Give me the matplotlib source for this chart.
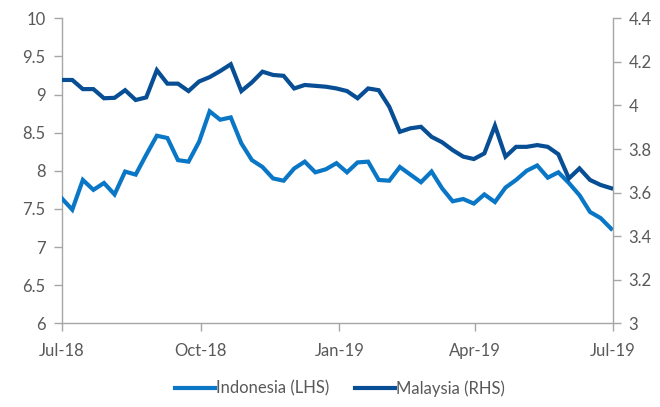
import numpy as np
import pandas as pd
import matplotlib
matplotlib.use("Agg")
import matplotlib.pyplot as plt
import matplotlib.dates as mdates

# weekly series, Jul-18 to Jul-19
dates = pd.date_range("2018-07-01", periods=53, freq="7D")

indonesia = [7.64, 7.49, 7.88, 7.75, 7.84, 7.69, 7.99, 7.95, 8.21, 8.46,
             8.43, 8.14, 8.12, 8.38, 8.78, 8.67, 8.70, 8.36, 8.14, 8.05,
             7.90, 7.87, 8.03, 8.12, 7.98, 8.02, 8.10, 7.98, 8.11, 8.12,
             7.88, 7.87, 8.05, 7.95, 7.85, 7.99, 7.77, 7.60, 7.63, 7.57,
             7.69, 7.59, 7.78, 7.88, 8.00, 8.07, 7.91, 7.98, 7.84, 7.68,
             7.46, 7.38, 7.24]

malaysia = [4.117, 4.117, 4.075, 4.075, 4.033, 4.035, 4.070, 4.025, 4.037, 4.162,
            4.100, 4.100, 4.066, 4.110, 4.130, 4.158, 4.189, 4.066, 4.106, 4.155,
            4.140, 4.136, 4.078, 4.094, 4.090, 4.086, 4.078, 4.066, 4.033, 4.078,
            4.070, 3.994, 3.879, 3.895, 3.902, 3.856, 3.831, 3.795, 3.765, 3.754,
            3.780, 3.907, 3.765, 3.810, 3.810, 3.818, 3.810, 3.776, 3.665, 3.711,
            3.658, 3.635, 3.620]

left_ticks = [6, 6.5, 7, 7.5, 8, 8.5, 9, 9.5, 10]
right_ticks = [3, 3.2, 3.4, 3.6, 3.8, 4, 4.2, 4.4]

c_indo = "#0A77C6"
c_mys = "#074E94"
grey = "#A6A6A6"
txt = "#595959"

plt.rcParams['font.family'] = ['Lato', 'DejaVu Sans']

fig = plt.figure(figsize=(6.6, 4.07), dpi=100)
ax = fig.add_axes([0.0935, 0.2057, 0.8348, 0.7493])
ax2 = ax.twinx()

l1, = ax.plot(dates, indonesia, color=c_indo, lw=3.0, solid_joinstyle="miter",
              label="Indonesia (LHS)", zorder=3)
l2, = ax2.plot(dates, malaysia, color=c_mys, lw=3.0, solid_joinstyle="miter",
               label="Malaysia (RHS)", zorder=3)

ax.set_ylim(6, 10)
ax2.set_ylim(3, 4.4)
ax.set_yticks(left_ticks)
ax.set_yticklabels(["%g" % v for v in left_ticks])
ax2.set_yticks(right_ticks)
ax2.set_yticklabels(["%g" % v for v in right_ticks])

ax.set_xlim(pd.Timestamp("2018-07-01"), pd.Timestamp("2019-07-01"))
ax.xaxis.set_major_locator(mdates.MonthLocator(bymonth=[1, 4, 7, 10]))
ax.xaxis.set_major_formatter(mdates.DateFormatter("%b-%y"))

for a in (ax, ax2):
    a.spines["top"].set_visible(False)
    for s in ("left", "right", "bottom"):
        a.spines[s].set_color(grey)
        a.spines[s].set_linewidth(1.0)
    a.tick_params(colors=grey, labelcolor=txt, labelsize=12, length=5.5, width=1.0)
ax.spines["right"].set_visible(False)
ax2.spines["left"].set_visible(False)
ax2.spines["bottom"].set_visible(False)
ax.tick_params(axis="y", pad=6)
ax2.tick_params(axis="y", pad=6)
ax.tick_params(axis="x", pad=9)

fig.legend(handles=[l1, l2], loc="center", bbox_to_anchor=(0.515, 0.046), ncol=2,
           frameon=False, fontsize=12, labelcolor=txt, handlelength=2.4,
           handletextpad=0.1, columnspacing=1.5)

fig.savefig("out.png", dpi=100)
